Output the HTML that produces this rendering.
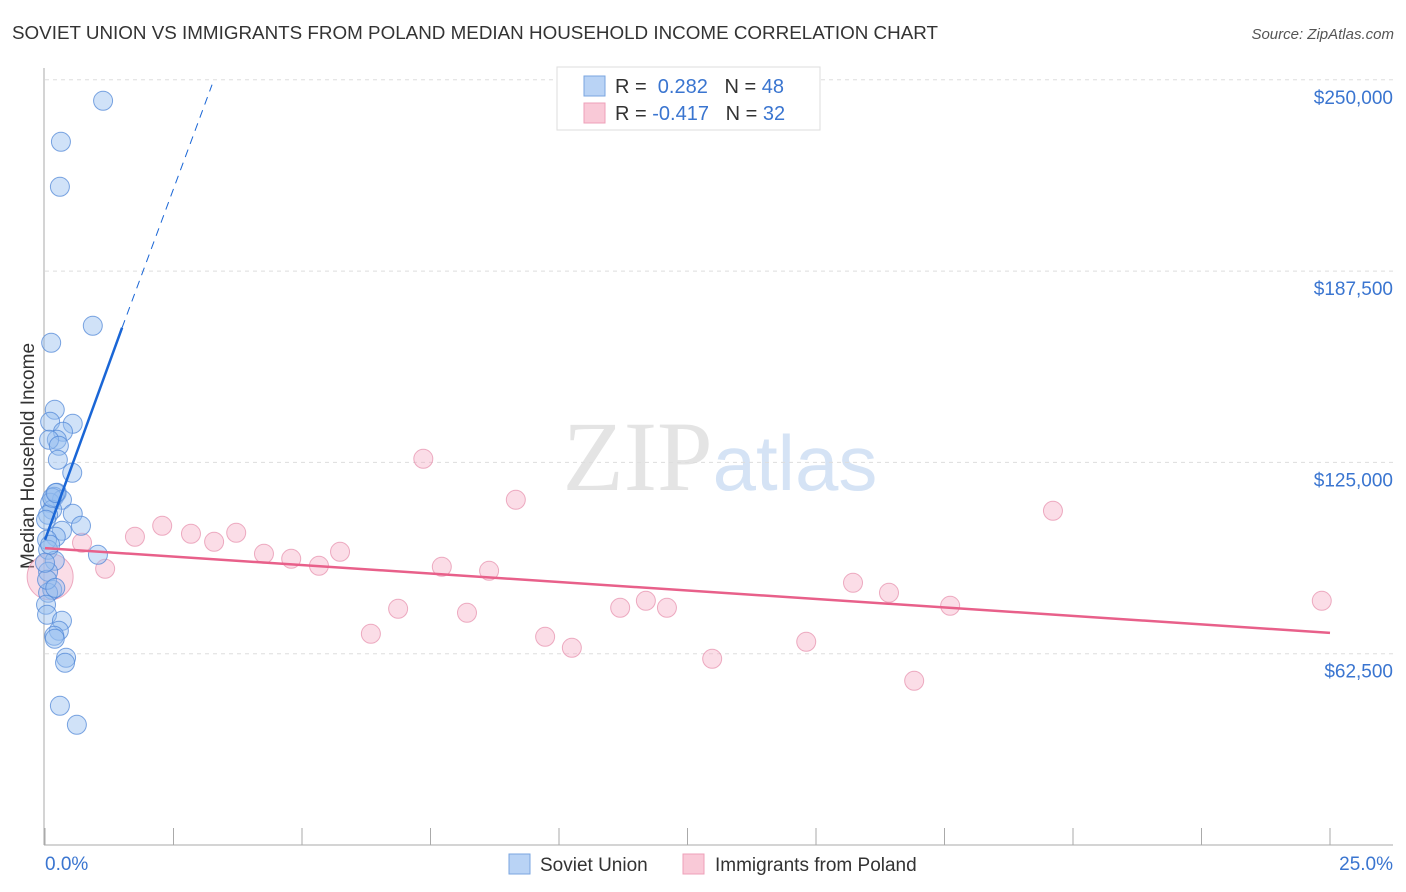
<!DOCTYPE html>
<html><head><meta charset="utf-8"><style>
body{margin:0;background:#fff;font-family:"Liberation Sans",sans-serif;}
svg{display:block}
</style></head><body>
<svg id="chart" width="1406" height="892" xmlns="http://www.w3.org/2000/svg" font-family="Liberation Sans, sans-serif">
<text x="12" y="39" font-size="18" fill="#333" textLength="926" lengthAdjust="spacingAndGlyphs">SOVIET UNION VS IMMIGRANTS FROM POLAND MEDIAN HOUSEHOLD INCOME CORRELATION CHART</text>
<text x="1394" y="39" font-size="15" fill="#555" text-anchor="end" font-style="italic">Source: ZipAtlas.com</text>
<text x="720" y="490" font-size="100" text-anchor="middle" fill="#e4e4e4" font-family="Liberation Serif, serif">ZIP<tspan fill="#d5e3f5" font-family="Liberation Sans, sans-serif" font-size="78">atlas</tspan></text>
<text transform="translate(34,456) rotate(-90)" font-size="19" fill="#333" text-anchor="middle">Median Household Income</text>
<g id="grid"></g><g id="axes"></g><g id="marks"></g>
<g>
<rect x="557" y="67" width="263" height="63" fill="#fff" stroke="#ddd"/>
<rect x="584" y="76" width="21" height="20" fill="#b9d3f5" stroke="#7aa6e0"/>
<text x="615" y="93" font-size="20" fill="#333">R = <tspan fill="#3a75d0">&#160;0.282</tspan>&#160;&#160;&#160;N = <tspan fill="#3a75d0">48</tspan></text>
<rect x="584" y="103" width="21" height="20" fill="#f9c9d7" stroke="#eea0b8"/>
<text x="615" y="120" font-size="20" fill="#333">R = <tspan fill="#3a75d0">-0.417</tspan>&#160;&#160;&#160;N = <tspan fill="#3a75d0">32</tspan></text>
</g>
<rect x="509" y="854" width="21" height="20" fill="#b9d3f5" stroke="#7aa6e0"/>
<text x="540" y="871" font-size="19" fill="#333">Soviet Union</text>
<rect x="683" y="854" width="21" height="20" fill="#f9c9d7" stroke="#eea0b8"/>
<text x="715" y="871" font-size="19" fill="#333">Immigrants from Poland</text>
</svg>
<script>
const yTicks=[250000,187500,125000,62500];
const yTickLabels=["$250,000","$187,500","$125,000","$62,500"];
const xTickLabels=["0.0%","25.0%"];
const sovietX=[1.13,0.31,0.29,0.93,0.12,0.19,0.10,0.54,0.35,0.23,0.08,0.27,0.25,0.53,0.23,0.18,0.33,0.10,0.14,0.06,0.54,0.70,0.33,0.21,0.04,0.06,1.03,0.19,0.06,0.14,0.06,0.02,0.04,0.33,0.27,0.18,0.19,0.41,0.39,0.29,0.62,0.10,0.04,0.14,0.02,0.20,0.21,0.0];
const sovietY=[243140,229750,215050,169630,164080,142190,138270,137620,135000,132390,132390,130430,125850,121610,115070,113770,112790,111810,109520,107890,108210,104290,102660,100700,99720,96450,94820,92860,89260,83380,82400,78480,75220,73260,70000,68360,67380,61170,59540,45490,39280,98090,86650,113440,106250,84000,115000,92200];
const polandX=[0.72,1.17,1.75,2.28,2.84,3.29,3.72,4.26,4.79,5.33,5.74,6.34,6.87,7.36,7.72,8.21,8.64,9.16,9.73,10.25,11.19,11.69,12.10,12.98,14.81,15.72,16.42,16.91,17.61,19.61,24.84,0.10];
const polandY=[98740,90240,100700,104290,101680,99070,102010,95150,93510,91220,95800,69010,77180,126180,90900,75870,89590,112790,68030,64430,77500,79790,77500,60840,66390,85670,82400,53650,78150,109190,79790,87630];
const sovietTrend=[[0,99720],[1.5,169000],[3.25,248400]];
const polandTrend=[[0,97000],[25,69300]];
const NS="http://www.w3.org/2000/svg";
const X=v=>45+v/25*1285;
const Y=v=>845-v/62500*191.3;
function mk(tag,attrs,parent){const e=document.createElementNS(NS,tag);for(const k in attrs)e.setAttribute(k,attrs[k]);parent.appendChild(e);return e;}
const grid=document.getElementById('grid'),axes=document.getElementById('axes'),marks=document.getElementById('marks');
yTicks.forEach((t,i)=>{
 const l=mk('line',{x1:45,x2:1393,y1:Y(t),y2:Y(t),stroke:'#ddd','stroke-dasharray':'4,4'},grid);
 
 
 const tx=mk('text',{x:1393,y:Y(t)+24,'font-size':19,fill:'#3a75d0','text-anchor':'end'},axes);
 tx.textContent=yTickLabels[i];
 
 
});
let a=mk('line',{x1:44,x2:44,y1:68,y2:845,stroke:'#aaa'},axes);


a=mk('line',{x1:44,x2:1393,y1:845,y2:845,stroke:'#aaa'},axes);


for(let i=0;i<=10;i++){
 const t=mk('line',{x1:X(i*2.5),x2:X(i*2.5),y1:828,y2:845,stroke:'#aaa'},axes);
 
 
}
[[0,'start',45],[25,'end',1393]].forEach((d,i)=>{
 const tx=mk('text',{x:d[2],y:870,'font-size':19,fill:'#3a75d0','text-anchor':d[1]},axes);
 tx.textContent=xTickLabels[i];
 
 
});
polandX.forEach((x,i)=>{
 const r=i===polandX.length-1?23:9.5;
 const c=mk('circle',{cx:X(x),cy:Y(polandY[i]),r:r,fill:'rgba(245,170,195,0.4)',stroke:'rgba(230,140,170,0.7)','stroke-width':1},marks);
 
 
});
sovietX.forEach((x,i)=>{
 const c=mk('circle',{cx:X(x),cy:Y(sovietY[i]),r:9.5,fill:'rgba(150,190,240,0.45)',stroke:'rgba(80,135,215,0.75)','stroke-width':1},marks);
 
 
});
let ln=mk('line',{x1:X(polandTrend[0][0]),y1:Y(polandTrend[0][1]),x2:X(polandTrend[1][0]),y2:Y(polandTrend[1][1]),stroke:'#e8608a','stroke-width':2.5},marks);


ln=mk('line',{x1:X(sovietTrend[0][0]),y1:Y(sovietTrend[0][1]),x2:X(sovietTrend[1][0]),y2:Y(sovietTrend[1][1]),stroke:'#1a66d6','stroke-width':2.5},marks);


ln=mk('line',{x1:X(sovietTrend[1][0]),y1:Y(sovietTrend[1][1]),x2:X(sovietTrend[2][0]),y2:Y(sovietTrend[2][1]),stroke:'#1a66d6','stroke-width':1,'stroke-dasharray':'8,6'},marks);


</script>
</body></html>
